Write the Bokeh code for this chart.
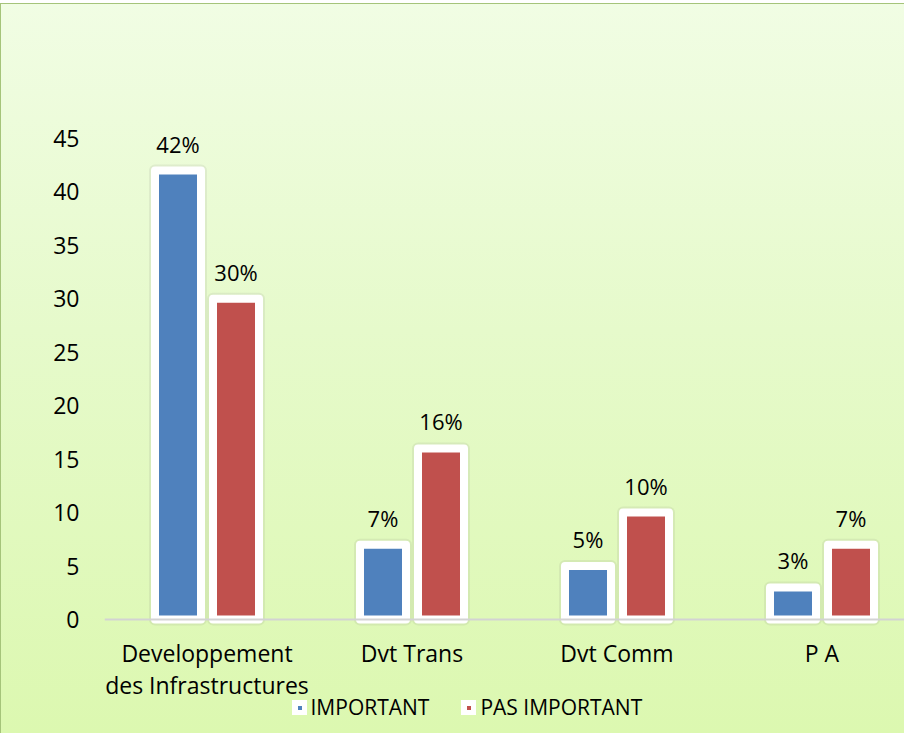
from bokeh.plotting import figure
from bokeh.models import FixedTicker, Legend, LegendItem
from bokeh.core.properties import value
from bokeh.embed import file_html
from bokeh.resources import INLINE

# ---- data ----
categories = ["Developpement\ndes Infrastructures", "Dvt Trans", "Dvt Comm", "P A"]
important = [42, 7, 5, 3]
pas_important = [30, 16, 10, 7]
series_names = ["IMPORTANT", "PAS IMPORTANT"]
y_ticks = [0, 5, 10, 15, 20, 25, 30, 35, 40, 45]
colors = ["#4F81BD", "#C0504D"]

FONT = "Open Sans"
PX_PER_UNIT = 10.689
CAT_PX = 205.0
FIG_W, FIG_H = 904, 733
TOP = 92            # frame top (figure px)
ZERO = 619          # y=0 position (figure px)
LEFT = 104
FRAME_W = FIG_W - LEFT

p = figure(width=FIG_W, height=FIG_H, output_backend="svg", toolbar_location=None,
           x_range=(-0.5, -0.5 + FRAME_W / CAT_PX),
           y_range=(-(FIG_H - ZERO) / PX_PER_UNIT, (ZERO - TOP) / PX_PER_UNIT),
           min_border_left=LEFT, min_border_right=0,
           min_border_top=TOP, min_border_bottom=0)

p.background_fill_alpha = 0
p.border_fill_alpha = 0
p.outline_line_color = None
border = "#A5C47A"
p.styles = {
    "background": (
        f"linear-gradient({border},{border}) 0 3px/100% 1px no-repeat, "
        f"linear-gradient({border},{border}) 0 3px/1px 100% no-repeat, "
        "linear-gradient(#ffffff,#ffffff) 0 0/100% 3px no-repeat, "
        "linear-gradient(180deg,#F1FDE4 0%,#E6FACB 45%,#DCF8B0 100%) 0 0/100% 100% no-repeat"
    )
}

dx = 29 / CAT_PX
bw = 46 / CAT_PX
x_imp = [i - dx for i in range(len(categories))]
x_pas = [i + dx for i in range(len(categories))]

# soft shadow
for xs, vals in ((x_imp, important), (x_pas, pas_important)):
    p.vbar(x=xs, top=vals, bottom=0, width=bw, fill_color=None,
           line_color="#6F6F6F", line_alpha=0.10, line_width=12, line_join="round")

r1 = p.vbar(x=x_imp, top=important, bottom=0, width=bw, fill_color=colors[0],
            line_color="white", line_width=8, line_join="round")
r2 = p.vbar(x=x_pas, top=pas_important, bottom=0, width=bw, fill_color=colors[1],
            line_color="white", line_width=8, line_join="round")

for xs, vals in ((x_imp, important), (x_pas, pas_important)):
    p.text(x=xs, y=vals, text=[f"{v}%" for v in vals],
           text_align="center", text_baseline="alphabetic", y_offset=-27,
           text_font=value(FONT), text_font_size="22px", text_color="#000000")

p.xgrid.visible = False
p.ygrid.visible = False

xa = p.xaxis[0]
xa.fixed_location = 0
xa.ticker = FixedTicker(ticks=list(range(len(categories))))
xa.major_label_overrides = {i: c for i, c in enumerate(categories)}
xa.axis_line_color = "#D3D3D3"
xa.axis_line_width = 2
xa.major_tick_line_color = None
xa.minor_tick_line_color = None
xa.major_label_standoff = 11
xa.major_label_text_font = FONT
xa.major_label_text_font_size = "23px"
xa.major_label_text_color = "#000000"
xa.major_label_text_line_height = 1.0

ya = p.yaxis[0]
ya.ticker = FixedTicker(ticks=y_ticks)
ya.axis_line_color = None
ya.major_tick_line_color = None
ya.minor_tick_line_color = None
ya.major_label_standoff = 19
ya.major_label_text_font = FONT
ya.major_label_text_font_size = "23px"
ya.major_label_text_color = "#000000"

legend = Legend(items=[LegendItem(label=series_names[0], renderers=[r1]),
                       LegendItem(label=series_names[1], renderers=[r2])],
                orientation="horizontal", location=(187.5, 12),
                glyph_width=15, glyph_height=15, label_standoff=4, spacing=32,
                padding=0, margin=0, border_line_color=None,
                background_fill_alpha=0,
                label_text_font=FONT, label_text_font_size="21px",
                label_text_color="#000000")
p.add_layout(legend)

open("out.html", "w").write(file_html(p, INLINE))
